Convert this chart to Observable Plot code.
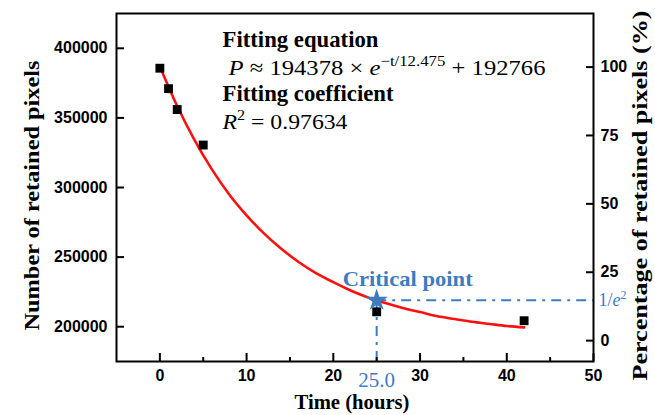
<!DOCTYPE html>
<html><head><meta charset="utf-8">
<script src="https://cdn.jsdelivr.net/npm/d3@7"></script>
<script src="https://cdn.jsdelivr.net/npm/@observablehq/plot@0.6"></script>
<style>body{margin:0;background:#fff}</style>
</head><body><div id="chart"></div>
<script>
const hours = [0, 1, 2, 5, 25, 42];
const pixels = [385700, 371000, 356000, 330500, 210700, 204300];
// fitted curve as drawn
const fitHours = [0, 2, 4, 6, 8, 10, 12, 14, 16, 18, 20, 22, 24, 26, 28, 30, 32, 34, 36, 38, 40, 42];
const fitPixels = [387000, 358500, 334000, 313000, 295000, 280000, 267000, 256000, 246500, 238500, 232000, 226000, 221000, 217000, 213500, 210500, 207500, 205500, 203500, 202000, 200500, 199500];
// axes
const xTicks = [0, 10, 20, 30, 40, 50];
const xMinorTicks = [5, 15, 25, 35, 45];
const yTicks = [200000, 250000, 300000, 350000, 400000];
const pctTicks = [0, 25, 50, 75, 100];
const pctZeroPixels = 190000;   // right-axis 0 % position
const pctFullPixels = 386500;   // right-axis 100 % position
const criticalHour = 25.0;
const criticalPixels = 219000;

const blue = "#3f7cbf";
const serif = "Liberation Serif, Times New Roman, serif";
const sans = "Liberation Sans, Arial, sans-serif";

const obs = hours.map((t, i) => ({t, p: pixels[i]}));
const fit = fitHours.map((t, i) => ({t, p: fitPixels[i]}));
const crit = [{t: criticalHour, p: criticalPixels}];
const pctRange = pctFullPixels - pctZeroPixels;
const pctPositions = pctTicks.map(p => pctZeroPixels + pctRange * p / 100);

const plot = Plot.plot({
  width: 655, height: 415,
  marginLeft: 116, marginRight: 62, marginTop: 13, marginBottom: 54,
  style: {fontFamily: sans, fontSize: "16px", fontWeight: "bold", background: "white", color: "black"},
  x: {domain: [-5, 50]},
  y: {domain: [175000, 425000]},
  marks: [
    Plot.ruleY(crit, {y: "p", x1: "t", x2: 50, stroke: blue, strokeWidth: 2, strokeDasharray: "10,6,3,6"}),
    Plot.ruleX(crit, {x: "t", y1: 175000, y2: "p", stroke: blue, strokeWidth: 2, strokeDasharray: "10,6,3,6"}),
    Plot.line(fit, {x: "t", y: "p", stroke: "#ff1010", strokeWidth: 2.6, curve: "monotone-x"}),
    Plot.dot(obs, {x: "t", y: "p", symbol: "square", r: 5, fill: "black"}),
    Plot.dot(crit, {x: "t", y: "p", symbol: "star", r: 7, fill: blue}),
    Plot.frame({stroke: "black", strokeWidth: 2}),
    Plot.axisX({ticks: xTicks, tickSize: -8, tickPadding: 16, strokeWidth: 2, label: null, fontSize: 16, fontWeight: "bold"}),
    Plot.axisX({ticks: xMinorTicks, tickSize: -4, tickFormat: () => "", strokeWidth: 2, label: null}),
    Plot.axisY({ticks: yTicks, tickSize: -8, tickPadding: 17, tickFormat: "d", strokeWidth: 2, label: null, fontSize: 16, fontWeight: "bold"}),
    Plot.axisY({anchor: "right", ticks: pctPositions, tickFormat: d => String(Math.round((d - pctZeroPixels) / pctRange * 100)), tickSize: -8, tickPadding: 15, strokeWidth: 2, label: null, fontSize: 16, fontWeight: "bold"}),
    // annotations
    Plot.text(["Fitting equation"], {frameAnchor: "top-left", dx: 106, dy: 33, textAnchor: "start", lineAnchor: "bottom", fontFamily: serif, fontSize: 23, fontWeight: "bold", className: "t-fe"}),
    Plot.text(["EQ"], {frameAnchor: "top-left", dx: 112, dy: 61, textAnchor: "start", lineAnchor: "bottom", fontFamily: serif, fontSize: 22, fontWeight: "normal", className: "t-eq"}),
    Plot.text(["Fitting coefficient"], {frameAnchor: "top-left", dx: 106, dy: 87, textAnchor: "start", lineAnchor: "bottom", fontFamily: serif, fontSize: 23, fontWeight: "bold", className: "t-fc"}),
    Plot.text(["R2"], {frameAnchor: "top-left", dx: 106, dy: 115, textAnchor: "start", lineAnchor: "bottom", fontFamily: serif, fontSize: 22, fontWeight: "normal", className: "t-r2"}),
    Plot.text(crit, {x: "t", y: "p", text: () => "Critical point", dx: -34, dy: -14, textAnchor: "start", lineAnchor: "bottom", fill: blue, fontFamily: serif, fontSize: 22, fontWeight: "bold", className: "t-cp"}),
    Plot.text(crit, {x: "t", text: d => d.t.toFixed(1), frameAnchor: "bottom", dy: 25, lineAnchor: "bottom", fill: blue, fontFamily: serif, fontSize: 21, fontWeight: "normal", className: "t-25"}),
    Plot.text(crit, {y: "p", text: () => "IE", frameAnchor: "right", dx: 5, textAnchor: "start", fill: blue, fontFamily: serif, fontSize: 18, fontWeight: "normal", className: "t-ie"}),
    // axis titles
    Plot.text(["Number of retained pixels"], {frameAnchor: "left", dx: -84, dy: 8, rotate: -90, textAnchor: "start", fontFamily: serif, fontSize: 20, fontWeight: "bold", className: "t-yl"}),
    Plot.text(["Percentage of retained pixels (%)"], {frameAnchor: "right", dx: 47, dy: 8, rotate: -90, textAnchor: "start", fontFamily: serif, fontSize: 20, fontWeight: "bold", className: "t-yr"}),
    Plot.text(["Time (hours)"], {frameAnchor: "bottom", dx: -3, dy: 47, lineAnchor: "bottom", textAnchor: "start", fontFamily: serif, fontSize: 20, fontWeight: "bold", className: "t-xl"})
  ]
});

const svg = d3.select(plot);
// stretch text to a given length; centred ones are shifted by half the length
function stretch(cls, len, centred) {
  const t = svg.selectAll(`.${cls} text`).attr("textLength", len).attr("lengthAdjust", "spacingAndGlyphs");
  if (centred) t.attr("x", -len / 2);
}

function rich(cls, parts) {
  const t = svg.select(`.${cls} text`);
  t.text(null);
  for (const p of parts) {
    const s = t.append("tspan").text(p.s);
    if (p.i) s.attr("font-style", "italic");
    if (p.size) s.attr("font-size", p.size);
    if (p.dy) s.attr("dy", p.dy);
  }
}
rich("t-eq", [
  {s: "P", i: true}, {s: " ≈ 194378 × "}, {s: "e", i: true},
  {s: "−t/12.475", size: 15, dy: -9}, {s: " + 192766", dy: 9}
]);
rich("t-r2", [
  {s: "R", i: true}, {s: "2", size: 15, dy: -9}, {s: " = 0.97634", dy: 9}
]);
rich("t-ie", [
  {s: "1/"}, {s: "e", i: true}, {s: "2", size: 12, dy: -7}
]);

stretch("t-yl", 270, true);
stretch("t-yr", 370, true);
stretch("t-xl", 115, true);
stretch("t-fe", 156);
stretch("t-fc", 171);
stretch("t-cp", 130);
stretch("t-eq", 317);
stretch("t-r2", 125);

document.getElementById("chart").appendChild(plot);
</script>
</body></html>
